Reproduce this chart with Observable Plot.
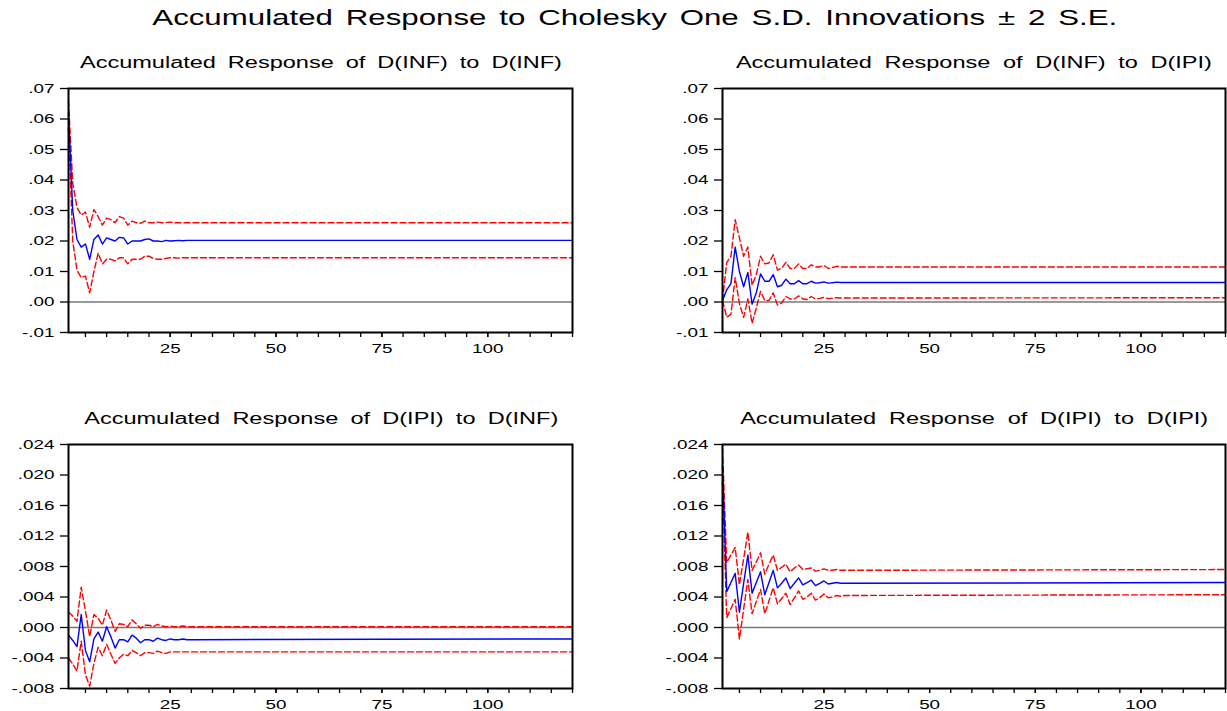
<!DOCTYPE html>
<html><head><meta charset="utf-8">
<script src="https://cdn.jsdelivr.net/npm/d3@7"></script>
<script src="https://cdn.jsdelivr.net/npm/@observablehq/plot@0.6"></script>
<style>
body{margin:0;background:#fff;}
#root{position:relative;width:1227px;height:711px;overflow:hidden;background:#fff;font-family:"Liberation Sans",Arial,sans-serif;}
.title{position:absolute;white-space:nowrap;line-height:1;color:#000;transform-origin:center center;}
.panel{position:absolute;}
</style></head><body><div id="root"></div>
<script>
// ---- data ----
const mainTitle = "Accumulated Response to Cholesky One S.D. Innovations \u00B1 2 S.E.";
const panelTitles = [
  "Accumulated Response of D(INF) to D(INF)",
  "Accumulated Response of D(INF) to D(IPI)",
  "Accumulated Response of D(IPI) to D(INF)",
  "Accumulated Response of D(IPI) to D(IPI)"
];
const periods = [1,2,3,4,5,6,7,8,9,10,11,12,13,14,15,16,17,18,19,20,21,22,23,24,25,26,27,28,29,30,120];
const xTickLabels = [25, 50, 75, 100];
const xMinorTicks = [5,10,15,20,25,30,35,40,45,50,55,60,65,70,75,80,85,90,95,100,105,110,115,120];
const yTicksTop = [-0.01, 0, 0.01, 0.02, 0.03, 0.04, 0.05, 0.06, 0.07];
const yTicksBottom = [-0.008, -0.004, 0, 0.004, 0.008, 0.012, 0.016, 0.020, 0.024];

// D(INF) to D(INF)
const resp1 = [.062,.030,.0205,.018,.019,.014,.0205,.022,.019,.021,.0205,.020,.0212,.021,.019,.020,.0200,.0200,.0205,.0207,.0200,.0200,.0198,.0202,.0200,.0201,.0202,.0201,.0202,.0202,.0202];
const up1   = [.066,.039,.031,.0285,.0295,.0245,.0303,.028,.0252,.0275,.027,.026,.028,.0275,.0252,.0265,.026,.0258,.0265,.026,.026,.0262,.026,.026,.0262,.026,.026,.026,.026,.026,.026];
const lo1   = [.057,.020,.0105,.008,.0085,.003,.010,.016,.0125,.014,.014,.0135,.0145,.0145,.0125,.014,.014,.014,.015,.015,.0143,.014,.014,.0143,.0145,.0145,.0144,.0145,.0145,.0145,.0145];
// D(INF) to D(IPI)
const resp2 = [.0005,.004,.006,.018,.010,.005,.0097,-.0007,.003,.0092,.0068,.0068,.009,.005,.0055,.0075,.006,.006,.007,.006,.006,.0068,.0062,.0063,.0066,.0062,.0063,.0065,.0064,.0064,.0064];
const up2   = [.0005,.013,.015,.027,.021,.015,.018,.0055,.009,.015,.0125,.0128,.0155,.0105,.011,.013,.011,.011,.0125,.011,.011,.0122,.0115,.0115,.012,.011,.0113,.0117,.0115,.0115,.0115];
const lo2   = [.0005,-.005,-.004,.008,-.0005,-.005,.001,-.007,-.002,.0035,.0005,.0005,.003,-.001,-.0003,.0018,.001,.001,.002,.001,.0008,.0018,.001,.0012,.0015,.0011,.0012,.0014,.0013,.0013,.0014];
// D(IPI) to D(INF)
const resp3 = [-.001,-.0017,-.0025,.0017,-.003,-.0045,-.0015,-.0006,-.0018,.0001,-.0012,-.0027,-.0016,-.0016,-.0019,-.001,-.0014,-.002,-.0016,-.0016,-.0018,-.0014,-.0016,-.0017,-.0015,-.0016,-.0016,-.0015,-.0016,-.0016,-.0015];
const up3   = [.002,.0015,.0008,.0053,.0022,-.0012,.0017,.0012,.0003,.0023,.001,-.0005,.0005,.0004,.0001,.001,.0005,-.0001,.0003,.0003,.0001,.0004,.0002,.0001,.0002,.0001,.0001,.0002,.0001,.0001,.0001];
const lo3   = [-.004,-.0048,-.0057,-.0018,-.0062,-.0077,-.0047,-.0026,-.0037,-.0022,-.0035,-.0047,-.004,-.0035,-.0037,-.003,-.0033,-.0037,-.0033,-.0033,-.0034,-.0031,-.0033,-.0034,-.0032,-.0032,-.0032,-.0032,-.0032,-.0032,-.0032];
// D(IPI) to D(IPI)
const resp4 = [.0212,.0047,.0059,.0071,.002,.0058,.0095,.0045,.0059,.0073,.0043,.0059,.0075,.0052,.0058,.0065,.0051,.0058,.0065,.0056,.0059,.0062,.0055,.0058,.0061,.0057,.0058,.0059,.0058,.0058,.0059];
const up4   = [.0235,.0085,.0095,.0105,.0056,.009,.0125,.0075,.0086,.0098,.007,.0083,.0095,.0075,.0079,.0083,.0073,.0078,.0082,.0076,.0077,.0078,.0074,.0075,.0077,.0075,.0075,.0076,.0075,.0075,.0076];
const lo4   = [.019,.0013,.0025,.0037,-.0015,.0024,.0063,.0018,.0034,.005,.0018,.0035,.0052,.0031,.0038,.0045,.003,.0039,.0048,.0037,.004,.0045,.0036,.0039,.0044,.0039,.004,.0042,.0041,.0042,.0043];

// ---- drawing ----
const root = document.getElementById("root");
const FONT = "'Liberation Sans', Arial, sans-serif";
const TEXT_SCALE = 1.45;

function fmtDec(digits) {
  return d => (d < -1e-12 ? "-" : "") + Math.abs(d).toFixed(digits).replace(/^0/, "");
}

function panel(resp, up, lo, yTicks, digits, left, top, width, mLeft, mRight) {
  const data = periods.map((p, i) => ({p, r: resp[i], u: up[i], l: lo[i]}));
  const svg = Plot.plot({
    width, height: 290,
    marginLeft: mLeft, marginRight: mRight, marginTop: 8, marginBottom: 38,
    x: {domain: [1, 120]},
    y: {domain: [yTicks[0], yTicks[yTicks.length - 1]]},
    style: {fontFamily: FONT, fontSize: "13px", color: "#000", background: "#fff", overflow: "visible"},
    marks: [
      Plot.ruleY([0], {stroke: "#777777", strokeWidth: 1.3}),
      Plot.line(data, {x: "p", y: "u", stroke: "#ff0000", strokeWidth: 1.4, strokeDasharray: "6,3"}),
      Plot.line(data, {x: "p", y: "l", stroke: "#ff0000", strokeWidth: 1.4, strokeDasharray: "6,3"}),
      Plot.line(data, {x: "p", y: "r", stroke: "#0000ff", strokeWidth: 1.4}),
      Plot.axisY({ticks: yTicks, tickSize: 8, tickPadding: 6, tickFormat: fmtDec(digits), label: null, strokeWidth: 1.3}),
      Plot.axisX({ticks: xMinorTicks, tickSize: 5, tickFormat: () => "", label: null, strokeWidth: 1.3}),
      Plot.axisX({ticks: xTickLabels, tickSize: 5, tickPadding: 6, tickFormat: d => String(d), label: null, strokeWidth: 1.3}),
      Plot.frame({stroke: "#000", strokeWidth: 2})
    ]
  });
  svg.classList.add("panel");
  svg.style.left = left + "px";
  svg.style.top = top + "px";
  svg.querySelectorAll("text").forEach(t => {
    const tr = t.getAttribute("transform") || "";
    t.setAttribute("transform", tr + " scale(" + TEXT_SCALE + ",1)");
  });
  root.appendChild(svg);
}

panel(resp1, up1, lo1, yTicksTop, 2, 0, 80, 600, 68, 28);
panel(resp2, up2, lo2, yTicksTop, 2, 620, 80, 607, 102, 2);
panel(resp3, up3, lo3, yTicksBottom, 3, 0, 436, 600, 68, 28);
panel(resp4, up4, lo4, yTicksBottom, 3, 620, 436, 607, 102, 2);

function title(text, fs, center, baseline, target, s) {
  const div = document.createElement("div");
  div.className = "title";
  div.style.fontSize = fs + "px";
  div.textContent = text;
  root.appendChild(div);
  const w0 = div.getBoundingClientRect().width;
  const n = (text.match(/ /g) || []).length;
  const ws = Math.max(0, (target / s - w0) / n);
  div.style.wordSpacing = ws + "px";
  const w1 = div.getBoundingClientRect().width;
  div.style.left = (center - w1 / 2) + "px";
  div.style.top = (baseline - 0.8465 * fs) + "px";
  div.style.transform = "scaleX(" + s + ")";
}

title(mainTitle, 22, 634.5, 26, 965, 1.42);
title(panelTitles[0], 16, 321, 68.5, 482, 1.47);
title(panelTitles[1], 16, 974, 68.5, 476, 1.47);
title(panelTitles[2], 16, 321, 424.5, 474, 1.47);
title(panelTitles[3], 16, 974, 424.5, 468, 1.47);
</script>
</body></html>
